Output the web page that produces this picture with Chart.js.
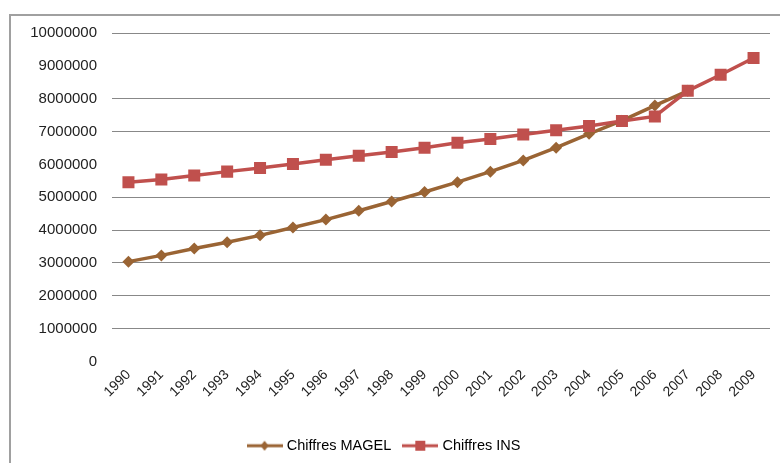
<!DOCTYPE html>
<html>
<head>
<meta charset="utf-8">
<script src="https://cdn.jsdelivr.net/npm/chart.js@4/dist/chart.umd.min.js"></script>
<style>
  html, body { margin: 0; padding: 0; background: #fff; }
  #wrap { position: relative; width: 780px; height: 463px; overflow: hidden; }
  #frame {
    position: absolute; left: 9px; top: 14px; width: 800px; height: 480px;
    border-left: 2px solid #a0a0a0; border-top: 2px solid #a0a0a0;
    pointer-events: none;
  }
</style>
</head>
<body>
<div id="wrap">
  <canvas id="trendChart" width="780" height="463"></canvas>
  <div id="frame"></div>
</div>
<script>
const years = ["1990", "1991", "1992", "1993", "1994", "1995", "1996", "1997", "1998", "1999",
  "2000", "2001", "2002", "2003", "2004", "2005", "2006", "2007", "2008", "2009"];

const magelValues = [3040000, 3230000, 3440000, 3630000, 3840000, 4080000, 4320000, 4590000,
  4870000, 5160000, 5460000, 5780000, 6120000, 6510000, 6930000, 7330000, 7790000, 8240000,
  null, null];

const insValues = [5460000, 5540000, 5660000, 5780000, 5890000, 6010000, 6140000, 6260000,
  6380000, 6510000, 6660000, 6770000, 6910000, 7040000, 7170000, 7320000, 7460000, 8240000,
  8730000, 9240000];

const yTicks = [0, 1000000, 2000000, 3000000, 4000000, 5000000, 6000000, 7000000, 8000000,
  9000000, 10000000];

const BROWN = "#9a6434";
const RED = "#c0504d";

// small line + marker swatch for the legend
function legendSwatch(color, style) {
  const c = document.createElement("canvas");
  c.width = 36;
  c.height = 14;
  const g = c.getContext("2d");
  g.strokeStyle = color;
  g.fillStyle = color;
  g.lineWidth = 3;
  g.beginPath();
  g.moveTo(0, 7);
  g.lineTo(36, 7);
  g.stroke();
  if (style === "rect") {
    g.fillRect(13, 2, 10, 10);
  } else {
    g.beginPath();
    g.moveTo(18, 2);
    g.lineTo(22, 7);
    g.lineTo(18, 12);
    g.lineTo(14, 7);
    g.closePath();
    g.fill();
  }
  return c;
}

const ctx = document.getElementById("trendChart").getContext("2d");

new Chart(ctx, {
  type: "line",
  data: {
    labels: years,
    datasets: [
      {
        label: "Chiffres MAGEL",
        data: magelValues,
        borderColor: BROWN,
        backgroundColor: BROWN,
        borderWidth: 3.5,
        pointStyle: "rectRot",
        pointRadius: 6,
        pointBorderWidth: 0,
        tension: 0,
        order: 2
      },
      {
        label: "Chiffres INS",
        data: insValues,
        borderColor: RED,
        backgroundColor: RED,
        borderWidth: 3.5,
        pointStyle: "rect",
        pointRadius: 8.5,
        pointBorderWidth: 0,
        tension: 0,
        order: 1
      }
    ]
  },
  options: {
    responsive: false,
    animation: false,
    devicePixelRatio: 1,
    layout: { padding: { top: 33, right: 10, left: 0, bottom: 0 } },
    plugins: {
      tooltip: { enabled: false },
      legend: {
        position: "bottom",
        labels: {
          color: "#222",
          font: { family: "'Liberation Sans', Arial, sans-serif", size: 14.5 },
          usePointStyle: true,
          pointStyleWidth: 30,
          boxHeight: 14,
          padding: 14,
          generateLabels: (chart) => chart.data.datasets.map((ds, i) => ({
            text: ds.label,
            pointStyle: legendSwatch(ds.borderColor, ds.pointStyle === "rect" ? "rect" : "diamond"),
            fillStyle: ds.borderColor,
            strokeStyle: ds.borderColor,
            lineWidth: 0,
            datasetIndex: i
          }))
        }
      }
    },
    scales: {
      x: {
        offset: true,
        grid: { display: false, drawTicks: false },
        border: { display: false },
        ticks: {
          color: "#222",
          font: { family: "'Liberation Sans', Arial, sans-serif", size: 14 },
          minRotation: 45,
          maxRotation: 45,
          padding: 5,
          autoSkip: false
        },
        afterFit: (scale) => { scale.height = 63; }
      },
      y: {
        min: 0,
        max: 10000000,
        afterBuildTicks: (scale) => { scale.ticks = yTicks.map((v) => ({ value: v })); },
        grid: {
          drawTicks: false,
          lineWidth: 1,
          // the 0, 6000000 and 9000000 rules are not drawn
          color: (c) => (c.tick && [0, 6000000, 9000000].includes(c.tick.value)) ? "rgba(0,0,0,0)" : "#888"
        },
        border: { display: false },
        ticks: {
          color: "#222",
          font: { family: "'Liberation Sans', Arial, sans-serif", size: 15 },
          padding: 15,
          callback: (v) => String(v)
        },
        afterFit: (scale) => { scale.width = 112; }
      }
    }
  }
});
</script>
</body>
</html>
